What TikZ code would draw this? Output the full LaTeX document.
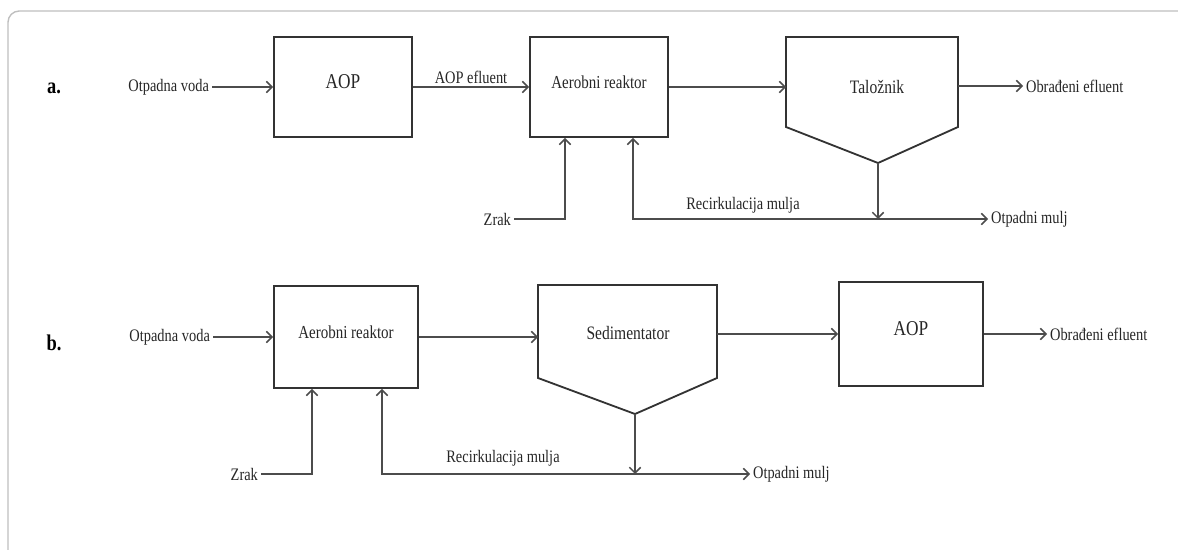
\documentclass[tikz,border=0pt]{standalone}
\usepackage{fontspec}
\setmainfont[FakeStretch=0.82]{Liberation Serif}
\usetikzlibrary{arrows.meta}

\begin{document}
\begin{tikzpicture}[x=0.025cm, y=-0.025cm,
  >={Straight Barb[length=4pt,width=8pt]},
  txt/.style={font=\fontsize{12.5}{14}\selectfont, text=black!85, inner sep=2pt},
  box/.style={draw=black!80, line width=1.3pt, text=black!85,
    font=\fontsize{13}{15}\selectfont, text height=9pt, text depth=7pt},
  wire/.style={draw=black!70, line width=1.1pt},
  flow/.style={wire, ->}]
  \useasboundingbox (0,0) rectangle (1178,550);
  \begin{scope}
    \clip (0,0) rectangle (1178,550);
    \draw[black!25, line width=1pt, rounded corners=8pt] (8,11) rectangle (1200,580);
  \end{scope}

  % a.
  \node[font=\fontsize{16}{18}\selectfont\bfseries] (lbla) at (54,88) {a.};
  \node[txt, anchor=east] (ina) at (212,87) {Otpadna voda};
  \node[box, minimum width=3.45cm, minimum height=2.5cm, font=\fontsize{15}{17}\selectfont] (aopa) at (343,87) {AOP};
  \node[box, minimum width=3.45cm, minimum height=2.5cm] (aera) at (599,87) {Aerobni reaktor};

  \coordinate (tala-tl) at (786,37);
  \coordinate (tala-tr) at (958,37);
  \coordinate (tala-br) at (958,127);
  \coordinate (tala-apex) at (878,163);
  \coordinate (tala-bl) at (786,127);
  \draw[draw=black!80, line width=1.3pt] (tala-tl) -- (tala-tr) -- (tala-br) -- (tala-apex) -- (tala-bl) -- cycle;
  \node[txt, font=\fontsize{13.5}{15}\selectfont] (tala) at (877,87) {Taložnik};

  \node[txt, anchor=west] (outa) at (1023,86) {Obrađeni efluent};
  \node[txt, anchor=east] (zraka) at (514,219) {Zrak};
  \node[txt, anchor=west] (otmulja) at (988,219) {Otpadni mulj};
  \node[txt] (reca) at (743,205) {Recirkulacija mulja};

  \draw[flow] (ina.east) -- (aopa.west);
  \draw[flow] (aopa.east) -- node[txt, above] (effa) {AOP efluent} (aera.west);
  \draw[flow] (aera.east) -- (aera.east -| tala-tl);
  \draw[flow] (outa.west -| tala-tr) -- (outa.west);
  \draw[flow] (zraka.east) -| ([xshift=-0.85cm]aera.south);
  \draw[flow] (tala-apex) -- (tala-apex |- otmulja.west);
  \draw[wire, <->] (otmulja.west) -| ([xshift=0.85cm]aera.south);

  % b.
  \node[font=\fontsize{16}{18}\selectfont\bfseries] (lblb) at (54,343) {b.};
  \node[txt, anchor=east] (inb) at (213,337) {Otpadna voda};
  \node[box, minimum width=3.6cm, minimum height=2.55cm] (aerb) at (346,337) {Aerobni reaktor};
  \node[box, minimum width=3.6cm, minimum height=2.6cm, font=\fontsize{15}{17}\selectfont] (aopb) at (911,334) {AOP};

  \coordinate (sedb-tl) at (538,285);
  \coordinate (sedb-tr) at (717,285);
  \coordinate (sedb-br) at (717,378);
  \coordinate (sedb-apex) at (635,414);
  \coordinate (sedb-bl) at (538,378);
  \draw[draw=black!80, line width=1.3pt] (sedb-tl) -- (sedb-tr) -- (sedb-br) -- (sedb-apex) -- (sedb-bl) -- cycle;
  \node[txt, font=\fontsize{13.5}{15}\selectfont] (sedb) at (628,333) {Sedimentator};

  \node[txt, anchor=west] (outb) at (1047,334) {Obrađeni efluent};
  \node[txt, anchor=east] (zrakb) at (261,474) {Zrak};
  \node[txt, anchor=west] (otmuljb) at (750,474) {Otpadni mulj};
  \node[txt] (recb) at (503,458) {Recirkulacija mulja};

  \draw[flow] (inb.east) -- (aerb.west);
  \draw[flow] (aerb.east) -- (aerb.east -| sedb-tl);
  \draw[flow] (aopb.west -| sedb-tr) -- (aopb.west);
  \draw[flow] (aopb.east) -- (outb.west);
  \draw[flow] (zrakb.east) -| ([xshift=-0.85cm]aerb.south);
  \draw[flow] (sedb-apex) -- (sedb-apex |- otmuljb.west);
  \draw[wire, <->] (otmuljb.west) -| ([xshift=0.9cm]aerb.south);
\end{tikzpicture}
\end{document}
